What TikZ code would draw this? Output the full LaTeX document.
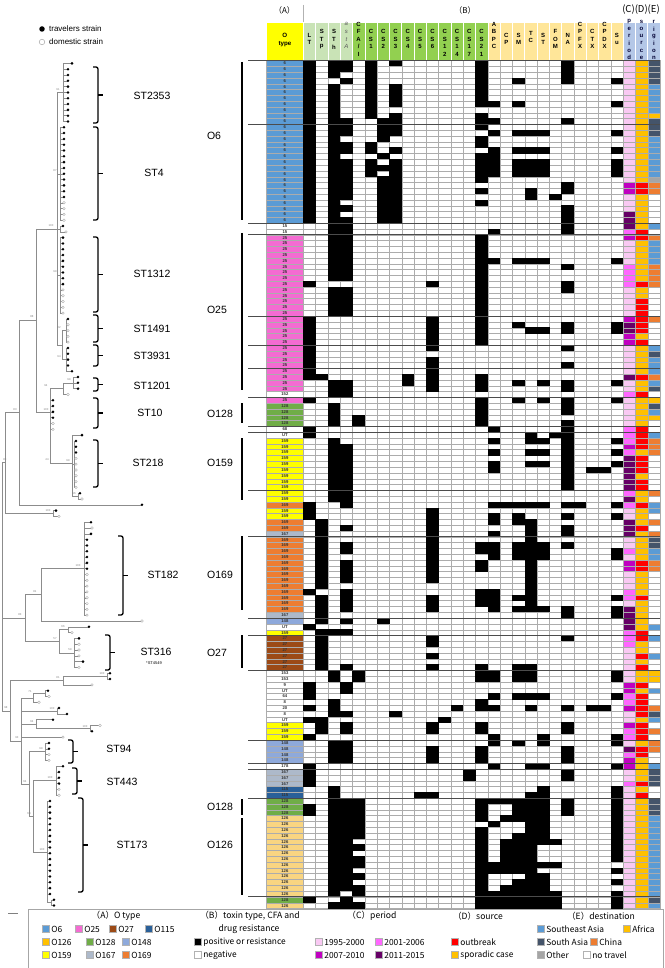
\documentclass[tikz,border=0pt]{standalone}
\usepackage{fontspec}
\setmainfont{Liberation Sans}
\newfontfamily\jpfont{Noto Sans CJK JP}
\usetikzlibrary{positioning}

\definecolor{ko6}{HTML}{5B9BD5}
\definecolor{ko25}{HTML}{F46BD2}
\definecolor{ko27}{HTML}{9C4A16}
\definecolor{ko115}{HTML}{2A6099}
\definecolor{ko126}{HTML}{F9D581}
\definecolor{ko126l}{HTML}{FFC000}
\definecolor{ko128}{HTML}{70AD47}
\definecolor{ko148}{HTML}{8EA9DB}
\definecolor{ko159}{HTML}{FFFF00}
\definecolor{ko167}{HTML}{ADB9CA}
\definecolor{ko169}{HTML}{ED7D31}
\definecolor{kon}{HTML}{FFFFFF}
\definecolor{kpa}{HTML}{F9C9F3}
\definecolor{kpb}{HTML}{FF66FF}
\definecolor{kpc}{HTML}{C000C0}
\definecolor{kpd}{HTML}{660066}
\definecolor{kso}{HTML}{FF0000}
\definecolor{kss}{HTML}{FFC000}
\definecolor{krs}{HTML}{5B9BD5}
\definecolor{kra}{HTML}{FFC000}
\definecolor{krh}{HTML}{44546A}
\definecolor{krc}{HTML}{ED7D31}
\definecolor{kro}{HTML}{A5A5A5}
\definecolor{krn}{HTML}{FFFFFF}
\definecolor{hdlg}{HTML}{C9E3B6}
\definecolor{hdgr}{HTML}{92D050}
\definecolor{hdor}{HTML}{FFE699}
\definecolor{hdbl}{HTML}{B4C7E7}
\definecolor{treegray}{HTML}{8C8C8C}

\tikzset{
  olab/.style={font=\bfseries\fontsize{4.2}{4.2}\selectfont, text=black!80, inner sep=0pt},
  hdlet/.style={font=\bfseries\fontsize{6}{6}\selectfont, inner sep=0pt},
  gridln/.style={draw=gray!65, line width=0.3pt},
  sepln/.style={draw=black!70, line width=0.9pt},
  obar/.style={line width=1.8pt},
  stbr/.style={line width=1.3pt, rounded corners=2pt},
  stlab/.style={font=\fontsize{10.5}{12}\selectfont, inner sep=0pt},
  branch/.style={draw=treegray, line width=0.45pt},
  fdot/.style={circle, fill=black, inner sep=0pt, minimum size=2.8pt},
  odot/.style={circle, draw=gray!70, fill=white, line width=0.35pt, inner sep=0pt, minimum size=2.6pt},
  bslab/.style={font=\fontsize{2.8}{3}\selectfont, text=gray, inner sep=0pt},
  keytxt/.style={font=\fontsize{8}{9}\selectfont, inner sep=0pt, anchor=west},
  abclab/.style={font=\jpfont\fontsize{8}{9}\selectfont, inner sep=0pt},
  lgbox/.style={draw=gray!60, line width=0.3pt, minimum size=7pt, inner sep=0pt},
  lgtxt/.style={font=\jpfont\fontsize{8.4}{10}\selectfont, inner sep=0pt},
  lgtitle/.style={font=\jpfont\fontsize{8.6}{10}\selectfont, inner sep=0pt}
}

% rows: label / O colour / positive columns / period / source / destination
\def\tabdata{6/ko6/{0,2,3,5,7,14,21}/kpa/kss/krh,
6/ko6/{0,2,3,5,14,21}/kpa/kss/krh,
6/ko6/{0,2,5,14,21}/kpa/kss/krh,
6/ko6/{0,3,5,14,17,21,25}/kpa/kss/krh,
6/ko6/{0,2,5,7,14}/kpa/kss/krs,
6/ko6/{0,2,5,7,14}/kpa/kss/krs,
6/ko6/{0,2,5,7,14}/kpa/kss/krs,
6/ko6/{0,2,5,7,14,15,17,25}/kpa/kss/krs,
6/ko6/{0,2,5}/kpa/kss/krs,
6/ko6/{0,2,5,7,14}/kpa/kss/kra,
6/ko6/{0,2,3,6,7,14,15,21}/kpa/kss/krh,
6/ko6/{0,2,3,6,7,14}/kpa/kss/krh,
6/ko6/{0,2,3,6,7,15,17,18,19,25}/kpa/kss/krh,
6/ko6/{0,2,6,14}/kpa/kss/krs,
6/ko6/{0,2,3,5,14}/kpa/kss/krs,
6/ko6/{0,2,3,5,7,15,17,18,19,25}/kpa/kss/krs,
6/ko6/{0,2,6,14,15}/kpa/kss/krs,
6/ko6/{0,2,3,5,7,14,15,17,18,19,25}/kpa/kss/krs,
6/ko6/{0,2,3,5,6,7,14,15,17,18,19,25}/kpa/kss/krs,
6/ko6/{0,2,3,5,7,14,15,17,18,19,25}/kpa/kss/krs,
6/ko6/{0,2,3,6,7,14}/kpa/kss/kro,
6/ko6/{0,2,3,6,7,21}/kpc/kso/krc,
6/ko6/{0,2,3,6,7,14,18,21}/kpc/kso/krc,
6/ko6/{0,2,3,6,7,18,20}/kpa/kss/krn,
6/ko6/{0,2,6,7,14}/kpa/kss/krn,
6/ko6/{0,2,3,6,7,21}/kpa/kss/krn,
6/ko6/{0,2,6,7,21}/kpd/kss/krn,
6/ko6/{0,2,3,6,7,21}/kpd/kss/krn,
15/kon/{2,3,21}/kpd/kss/krs,
15/kon/{2,3,15,21}/kpb/kso/krn,
25/ko25/{2,3,14}/kpc/kso/krc,
25/ko25/{2,3,14}/kpa/kss/krs,
25/ko25/{2,3,14}/kpa/kss/krs,
25/ko25/{2,3,14}/kpa/kss/krs,
25/ko25/{2,3,14,15,17,18,19,25}/kpa/kss/krs,
25/ko25/{2,3,14,21}/kpb/kss/krc,
25/ko25/{2,3,14}/kpb/kss/krc,
25/ko25/{2,3,14}/kpb/kss/krc,
25/ko25/{0,10,14,21}/kpb/kso/krc,
25/ko25/{2,3,14,21}/kpa/kss/krn,
25/ko25/{2,3,14}/kpa/kss/krn,
25/ko25/{2,3,14}/kpa/kso/krn,
25/ko25/{2,3,14}/kpa/kso/krn,
25/ko25/{2,3,14}/kpa/kso/krn,
25/ko25/{0,10,14}/kpc/kso/krc,
25/ko25/{0,10,14,17,21,25}/kpd/kso/krn,
25/ko25/{0,10,14,18,19,21,25}/kpd/kso/krn,
25/ko25/{0,10,14}/kpc/kss/krn,
25/ko25/{0,10,14}/kpc/kso/krn,
25/ko25/{0,10,21}/kpa/kss/krs,
25/ko25/{0}/kpa/kss/krh,
25/ko25/{0,10}/kpa/kss/krs,
25/ko25/{0,10,21}/kpa/kss/krs,
25/ko25/{0,10}/kpa/kss/krs,
25/ko25/{0,1,8,10,14}/kpd/kso/krc,
25/ko25/{2,3,8,10,14,17,19,21,25}/kpa/kss/krs,
25/ko25/{2,3,10,14,21}/kpa/kss/krh,
152/kon/{2,3}/kpb/kso/krn,
25/ko25/{0,14,17,19,21,25}/kpa/kss/kra,
128/ko128/{2,14,21}/kpa/kss/krh,
128/ko128/{2,14,21}/kpa/kss/krs,
128/ko128/{2,4,14}/kpa/kss/kra,
128/ko128/{2,4,14,21}/kpa/kss/krn,
68/kon/{0,15,21}/kpb/kso/krn,
UT/kon/{0,18,20,21}/kpb/kso/krs,
159/ko159/{2,15,18,19,21,25}/kpb/kso/krc,
159/ko159/{2,3,21}/kpc/kso/krc,
159/ko159/{2,3,15,18,19,21,25}/kpb/kss/krc,
159/ko159/{2,3,21}/kpd/kso/krn,
159/ko159/{2,3,15,18,19,21,25}/kpd/kso/krn,
159/ko159/{2,3,15,21,23,24}/kpd/kso/krn,
159/ko159/{2,3,21}/kpd/kss/krn,
159/ko159/{2,3,21}/kpd/kso/krn,
159/ko159/{2,3,21}/kpd/kso/krn,
159/ko159/{2,3}/kpb/kss/krc,
159/ko159/{2,3}/kpd/kss/krn,
169/ko169/{0,3,15,16,17,18,19,21,22,25}/kpb/kso/krs,
159/ko159/{0,10}/kpa/kss/krs,
159/ko159/{0,10,15,17,21,25}/kpa/kss/krn,
169/ko169/{1,10,15,17,18}/kpd/kss/krc,
169/ko169/{1,3,10,18,21}/kpd/kso/krn,
167/ko167/{1,10,15,18,21}/kpd/kss/krc,
169/ko169/{1,10,18}/kpa/kss/krh,
169/ko169/{1,3,10,14,15,17,18,19,21}/kpa/kss/krh,
169/ko169/{1,3,10,14,15,17,18,19,25}/kpb/kss/krs,
169/ko169/{1,10,15,17,18,19,25}/kpa/kss/krs,
169/ko169/{1,3,10,14,18}/kpc/kso/krc,
169/ko169/{1,3,10,14,18}/kpc/kso/krc,
169/ko169/{1,3,10,18}/kpa/kss/krn,
169/ko169/{1,3,10,18}/kpa/kss/krn,
169/ko169/{1,18}/kpa/kss/krn,
169/ko169/{0,3,14,15,18}/kpb/kss/krn,
169/ko169/{1,3,10,14,15,17,18,25}/kpb/kso/krn,
169/ko169/{1,3,10,14,15,18}/kpa/kss/krn,
169/ko169/{1,3,10,15,17,18,19,21,25}/kpd/kss/krn,
167/ko167/{1,21,25}/kpd/kss/krn,
148/ko148/{1,3,6}/kpd/kss/krn,
UT/kon/{0}/kpd/kss/krs,
159/ko159/{1,2,3}/kpb/kso/krn,
27/ko27/{1,10,21}/kpb/kso/krs,
27/ko27/{1,10}/kpb/kss/krn,
27/ko27/{1}/kpa/kss/krn,
27/ko27/{1,10}/kpa/kso/krs,
27/ko27/{1}/kpa/kss/krn,
27/ko27/{1,3,10,14,17,18}/kpa/kso/krn,
153/kon/{2,4,14,15,17,18,25}/kpa/kss/kra,
153/kon/{2,4,14,15,17,18,25}/kpa/kss/kra,
9/kon/{0,3}/kpc/kso/krn,
UT/kon/{0,3}/kpc/kss/krs,
64/kon/{0,15,17,18,19,25}/kpb/kso/krn,
8/kon/{2,14}/kpb/kso/krn,
20/kon/{0,2,12,14,15,18,21,23,24}/kpc/kso/krc,
8/kon/{2,3,7}/kpa/kso/krh,
UT/kon/{0,1,11}/kpa/kss/krs,
159/ko159/{1,3,10,14,21}/kpc/kso/krn,
159/ko159/{1,3,10,14,21}/kpb/kso/krc,
159/ko159/{0,15,19,25}/kpb/kso/krn,
148/ko148/{2,3,15,17,19,25}/kpa/kss/krc,
148/ko148/{2,3,10,14,21}/kpd/kso/krc,
148/ko148/{2,3,10,14,21}/kpb/kso/krn,
148/ko148/{2,3,10,14,21}/kpc/kss/krn,
178/kon/{0,15,18,19,25}/kpc/kss/krs,
167/ko167/{0,13,21}/kpa/kss/krh,
167/ko167/{0,13,21}/kpa/kss/krh,
167/ko167/{0}/kpb/kso/krh,
115/ko115/{2,19,25}/kpa/kss/krn,
115/ko115/{2,9,10,18,19,25}/kpa/kso/krn,
128/ko128/{2,3,4,14,15,16,17,18,19,21,25}/kpa/kss/krh,
128/ko128/{0,2,3,4,14,17,18,19,21,25}/kpa/kss/krh,
128/ko128/{0,2,3,4,14,17,18,19,21,25}/kpa/kss/krh,
126/ko126/{2,3,4,14,16,17,18,19,25}/kpa/kss/krs,
126/ko126/{2,3,4,15,18,19,25}/kpa/kss/krs,
126/ko126/{2,3,4,14,18,19,25}/kpa/kss/krs,
126/ko126/{2,3,4,14,17,18,19,25}/kpa/kss/krs,
126/ko126/{2,3,14,16,17,18,19,20,25}/kpa/kss/krs,
126/ko126/{2,3,4,14,16,17,18,25}/kpa/kss/krs,
126/ko126/{2,3,14,16,17,18,25}/kpa/kss/krs,
126/ko126/{2,3,4,14,16,17,18,25}/kpa/kss/krs,
126/ko126/{2,3,4,14,15,16,17,18,19,20}/kpa/kss/krs,
126/ko126/{2,3,14,15,16,17,18,25}/kpa/kss/krs,
126/ko126/{2,3,4,14,18,19}/kpa/kss/krs,
126/ko126/{2,3,14,17,18,19,25}/kpa/kss/krs,
126/ko126/{2,3,4,14,16,17,18,19}/kpa/kss/krs,
126/ko126/{2,4,14,15,16,17,18,19,20,25}/kpa/kss/krs,
128/ko128/{0,3,14,15,16,17,18,19,20,25}/kpa/kss/krh,
126/ko126/{2,3,4,14,15,16,17,18,19,20,25}/kpa/kss/krs}

\begin{document}
\begin{tikzpicture}[x=1pt, y=-1pt]
\useasboundingbox (0,0) rectangle (664,968);
\fill[white] (0,0) rectangle (664,968);

% key for the tree
\node[fdot, minimum size=5.5pt] (key-trav) at (42,29) {};
\node[keytxt, right=4pt of key-trav] (key-travtxt) {travelers strain};
\node[odot, minimum size=5.5pt, line width=0.5pt] (key-dom) at (42,42) {};
\node[keytxt, right=4pt of key-dom] (key-domtxt) {domestic strain};

% column groups
\node[abclab] (lab-a) at (284.5,10) {（A）};
\node[abclab] (lab-b) at (465,10) {（B）};
\node[abclab, font=\jpfont\fontsize{9.5}{10}\selectfont] (lab-cde) at (641,10) {(C)(D)(E)};
\draw[gray!60, line width=0.4pt] (303.3,5) -- (303.3,22);

% header
\fill[ko159] (266.5,23) rectangle (303.3,60.5);
\fill[hdlg] (303.3,23) rectangle (352.5,60.5);
\fill[hdgr] (352.5,23) rectangle (487.8,60.5);
\fill[hdor] (487.8,23) rectangle (623.1,60.5);
\fill[hdbl] (623.1,23) rectangle (660,60.5);
\foreach \c in {0,...,29}
  \draw[white, line width=0.6pt] (303.3+12.3*\c,23) -- (303.3+12.3*\c,60.5);
\node[font=\bfseries\fontsize{6.2}{8}\selectfont, align=center, inner sep=0pt] (hd-otype) at (284.9,39.5) {O\\type};
\foreach \c/\ty/\lets in {0/35/{L,T},1/31.7/{S,T,p},2/31.7/{S,T,h},4/24/{C,F,A,/,I},
    5/31.7/{C,S,1},6/31.7/{C,S,2},7/31.7/{C,S,3},8/31.7/{C,S,4},9/31.7/{C,S,5},10/31.7/{C,S,6},
    11/31.7/{C,S,1,2},12/31.7/{C,S,1,4},13/31.7/{C,S,1,7},14/31.7/{C,S,2,1},
    15/24/{A,B,P,C},16/35/{C,P},17/35/{S,M},18/33.3/{T,C},19/35/{S,T},20/31.7/{F,O,M},
    21/35/{N,A},22/24/{C,P,F,X},23/31.7/{C,T,X},24/24/{C,P,D,X},25/35/{S,u}}
{\foreach \ch [count=\i] in \lets
   \node[hdlet] (hd-\c-\i) at (309.45+12.3*\c,\ty+7.6*\i-7.6) {\ch};}
\foreach \ch [count=\i] in {a,s,t,A}
  \node[hdlet, font=\itshape\fontsize{6}{6}\selectfont, text=gray!70!black] (hd-3-\i) at (346.35,24+7.6*\i-7.6) {\ch};
\foreach \c/\lets in {26/{p,e,r,i,o,d},27/{s,o,u,r,c,e},28/{r,i,g,i,o,n}}
{\foreach \ch [count=\i] in \lets
   \node[hdlet, text=black!80!blue] (hd-\c-\i) at (309.45+12.3*\c,21.7+7.2*\i-7.2) {\ch};}

% coloured columns
\foreach \lab/\oc/\cells/\pc/\sc/\rc [count=\k from 0] in \tabdata {
  \fill[\oc] (266.5,60.5+5.808*\k) rectangle (303.3,66.308+5.808*\k);
  \fill[\pc] (623.1,60.5+5.808*\k) rectangle (635.4,66.308+5.808*\k);
  \fill[\sc] (635.4,60.5+5.808*\k) rectangle (647.7,66.308+5.808*\k);
  \fill[\rc] (647.7,60.5+5.808*\k) rectangle (660,66.308+5.808*\k);
}

% grid
\foreach \k in {0,...,146}
  \draw[gridln] (266.5,60.5+5.808*\k) -- (660,60.5+5.808*\k);
\draw[gridln] (266.5,60.5) -- (266.5,908.5);
\foreach \c in {0,...,29}
  \draw[gridln] (303.3+12.3*\c,60.5) -- (303.3+12.3*\c,908.5);

% positive cells and O type numbers
\foreach \lab/\oc/\cells/\pc/\sc/\rc [count=\k from 0] in \tabdata {
  \foreach \c in \cells
    \fill[black] (303.1+12.3*\c,60.3+5.808*\k) rectangle (315.8+12.3*\c,66.5+5.808*\k);
  \node[olab] (ol-\k) at (284.9,63.4+5.808*\k) {\lab};
}

% group separators
\foreach \b in {0,11,28,30,44,49,53,58,63,64,74,82,96,99,105,117,121,122,127,144}
  \draw[sepln] (248,60.5+5.808*\b) -- (660,60.5+5.808*\b);

% O groups
\foreach \nm/\gx/\gy/\ya/\yb [count=\i] in {O6/214/136/62/220, O25/217/310/233/390, O128/220/414/403/423,
    O159/220/463/438/500, O169/220/575/536/610, O27/217/653/635/668, O128/220/807/799/815, O126/220/845/818/895}
{ \draw[obar] (242,\ya) -- (242,\yb);
  \node[stlab] (grp-\i) at (\gx,\gy) {\nm}; }

% ST clusters
\foreach \nm/\bx/\ya/\yb/\lx/\ly in {ST2353/98/67/123/152/96, ST4/98/127/220/154/173, ST1312/98/237/312/152/274,
    ST1491/98/315/342/152/329, ST3931/98/345/366/152/356, ST1201/98/378/391/152/386, ST10/98/398/428/150/413,
    ST218/98/440/487/148/463, ST182/123/536/615/163/575, ST316/110/635/670/156/652, ST94/73/740/763/119/749,
    ST443/77/768/794/122/782, ST173/83/798/892/132/845}
{ \draw[stbr] (\bx-5,\ya) -- (\bx,\ya) -- (\bx,\yb) -- (\bx-5,\yb);
  \draw[line width=1.3pt] (\bx,{(\ya+\yb)/2}) -- (\bx+4.5,{(\ya+\yb)/2});
  \node[stlab] (lab-\nm) at (\lx,\ly) {\nm}; }
\node[font=\fontsize{4}{4}\selectfont, inner sep=0pt] (lab-st4549) at (154,663) {*ST4549};

% tree: clusters
\foreach \nx/\ra/\rb in {63/0/10, 60/11/27, 60/28/29, 60/30/43, 66/44/48, 66/49/53, 73/54/56, 74/65/73,
    78/74/75, 53/77/78, 84/79/95, 68/97/98, 74/99/104, 107/105/106, 45/108/109, 57/111/112, 90/114/115,
    45/117/120, 56/121/126, 51/144/145}
  \draw[branch] (\nx,63.4+5.808*\ra) -- (\nx,63.4+5.808*\rb);
% tree: inner branches
\draw[branch] (57,92.4) -- (57,345);
\draw[branch] (57,92.4) -- (63,92.4);
\draw[branch] (57,173.8) -- (60,173.8);
\draw[branch] (57,228.9) -- (60,228.9);
\draw[branch] (57,275.4) -- (60,275.4);
\draw[branch] (57,345) -- (62,345);
\draw[branch] (62,330.6) -- (62,359.6);
\draw[branch] (62,330.6) -- (66,330.6);
\draw[branch] (62,359.6) -- (66,359.6);
\draw[branch] (36,228.9) -- (57,228.9);
\draw[branch] (36,228.9) -- (36,412);
\draw[branch] (36,412) -- (50,412);
\draw[branch] (50,388.6) -- (50,463);
\draw[branch] (50,388.6) -- (63,388.6);
\draw[branch] (63,382.8) -- (63,394.5);
\draw[branch] (63,382.8) -- (73,382.8);
\draw[branch] (50,463) -- (72,463);
\draw[branch] (72,435.1) -- (72,496.1);
\draw[branch] (72,464.2) -- (74,464.2);
\draw[branch] (72,496.1) -- (78,496.1);
\draw[branch] (19,320) -- (36,320);
\draw[branch] (19,320) -- (19,504.8);
\draw[branch] (5,412) -- (19,412);
\draw[branch] (5,412) -- (5,513.5);
\draw[branch] (5,513.5) -- (53,513.5);
\draw[branch] (2,462.7) -- (2,710.8);
\draw[branch] (2,462.7) -- (5,462.7);
\draw[branch] (2,618) -- (25,618);
\draw[branch] (25,594.7) -- (25,641.3);
\draw[branch] (25,594.7) -- (41,594.7);
\draw[branch] (41,568.7) -- (41,621);
\draw[branch] (41,568.7) -- (84,568.7);
\draw[branch] (25,641.3) -- (59,641.3);
\draw[branch] (59,629.7) -- (59,652.9);
\draw[branch] (59,629.7) -- (68,629.7);
\draw[branch] (59,652.9) -- (74,652.9);
\draw[branch] (2,710.8) -- (10,710.8);
\draw[branch] (10,680.5) -- (10,741);
\draw[branch] (10,680.5) -- (63,680.5);
\draw[branch] (63,676.2) -- (63,684.9);
\draw[branch] (63,676.2) -- (107,676.2);
\draw[branch] (10,741) -- (21,741);
\draw[branch] (21,698) -- (21,784);
\draw[branch] (21,698) -- (33,698);
\draw[branch] (33,693.6) -- (33,702.3);
\draw[branch] (33,693.6) -- (45,693.6);
\draw[branch] (21,711) -- (57,711);
\draw[branch] (21,724) -- (36,724);
\draw[branch] (36,719.7) -- (36,728.4);
\draw[branch] (36,728.4) -- (90,728.4);
\draw[branch] (21,784) -- (29,784);
\draw[branch] (29,751.6) -- (29,816);
\draw[branch] (29,751.6) -- (45,751.6);
\draw[branch] (29,816) -- (33,816);
\draw[branch] (33,780.7) -- (33,852);
\draw[branch] (33,780.7) -- (56,780.7);
\draw[branch] (33,852) -- (47,852);
\draw[branch] (47,801) -- (47,902.7);
\draw[branch] (47,902.7) -- (51,902.7);
% tree: strains
\foreach \ra/\rb/\nx/\lx/\st in {0/0/63/72/fdot, 1/10/63/68/fdot, 11/23/60/64/fdot, 24/27/60/64/odot,
    28/28/60/63/fdot, 29/29/60/66/odot, 30/38/60/63/fdot, 39/43/60/63/odot, 44/44/66/68/fdot,
    45/48/66/68/odot, 49/52/66/68/fdot, 53/53/66/72/fdot, 54/56/73/78/fdot, 57/57/63/68/odot,
    58/61/50/53/fdot, 62/63/50/53/odot, 64/64/72/82/fdot, 65/67/74/76/fdot, 68/73/74/76/odot,
    74/74/78/80/fdot, 75/75/78/82/odot, 76/76/19/142/fdot, 77/77/53/56/fdot, 78/78/53/59/odot,
    79/79/84/91/fdot, 80/80/84/92/odot, 81/81/84/91/fdot, 82/87/84/87/fdot, 88/95/84/87/odot,
    96/96/41/142/odot, 97/97/68/89/fdot, 98/98/68/72/odot, 99/99/74/79/fdot, 100/102/74/79/odot,
    103/103/74/83/fdot, 104/104/74/79/odot, 105/106/107/110/fdot, 107/107/63/92/odot,
    108/108/45/48/fdot, 109/109/45/49/odot, 110/110/33/39/odot, 111/111/57/59/fdot,
    112/112/57/67/fdot, 113/113/36/53/fdot, 114/114/90/100/odot, 115/115/90/92/fdot,
    116/116/21/63/odot, 117/118/45/49/fdot, 119/120/45/49/odot, 121/121/56/63/fdot,
    122/124/56/59/fdot, 125/126/56/59/odot, 127/143/47/50/fdot, 144/145/51/54/fdot}
{\foreach \k in {\ra,...,\rb} {
   \draw[branch] (\nx,63.4+5.808*\k) -- (\lx,63.4+5.808*\k);
   \node[\st] (lf-\k) at (\lx,63.4+5.808*\k) {};
}}
% bootstrap values
\foreach \bx/\by/\bv [count=\i] in {58/90/91, 55/171/87, 51/226/100, 55/272/99, 59/328/82, 59/357/94,
    69/380/99, 46/386/94, 46/410/100, 47/460/44, 68/461/99, 74/494/96, 32/317/88, 15/410/83,
    48/511/100, 5/460/83, 78/566/100, 35/592/81, 20/615/83, 63/627/66, 55/639/57, 70/650/59,
    102/674/100, 58/678/81, 6/708/98, 30/692/71, 52/709/100, 85/727/100, 32/722/64, 17/738/93,
    41/749/99, 50/778/100, 25/782/64, 29/814/64, 42/850/100}
  \node[bslab] (bs-\i) at (\bx,\by) {\bv};
% scale bar
\draw[gray, line width=0.4pt] (8,913) -- (18,913);

% legend
\draw[gray!70, line width=0.5pt] (28,968) -- (28,909) -- (663,909) -- (663,968);
\node[lgtitle] (lgt-a) at (116,916) {（A）O type};
\node[lgtitle] (lgt-b) at (250,916) {（B）toxin type, CFA and};
\node[lgtitle] (lgt-b2) at (249,929) {drug resistance};
\node[lgtitle] (lgt-c) at (372,916) {（C）period};
\node[lgtitle] (lgt-d) at (478,916) {（D）source};
\node[lgtitle] (lgt-e) at (601,916) {（E）destination};
\foreach \nm/\lx/\ly/\col/\txt in {o6/46/929/ko6/O6, o25/79/929/ko25/O25, o27/113/929/ko27/O27,
    o115/149/929/ko115/O115, o126/46/942/ko126l/O126, o128/90/942/ko128/O128, o148/126/942/ko148/O148,
    o159/46/955/ko159/O159, o167/90/955/ko167/O167, o169/126/955/ko169/O169,
    pos/198/942/black/positive or resistance, neg/198/955/white/negative,
    pa/319/942/kpa/1995-2000, pb/379/942/kpb/2001-2006, pc/319/955/kpc/2007-2010, pd/379/955/kpd/2011-2015,
    so/455/942/kso/outbreak, ss/455/955/kss/sporadic case,
    rs/541/929/krs/Southeast Asia, ra/627/929/kra/Africa, rh/541/942/krh/South Asia,
    rc/594/942/krc/China, ro/541/955/kro/Other, rn/587/955/white/no travel}
{ \node[lgbox, fill=\col] (lb-\nm) at (\lx,\ly) {};
  \node[lgtxt, right=1.5pt of lb-\nm] (lx-\nm) {\txt}; }
\end{tikzpicture}
\end{document}
